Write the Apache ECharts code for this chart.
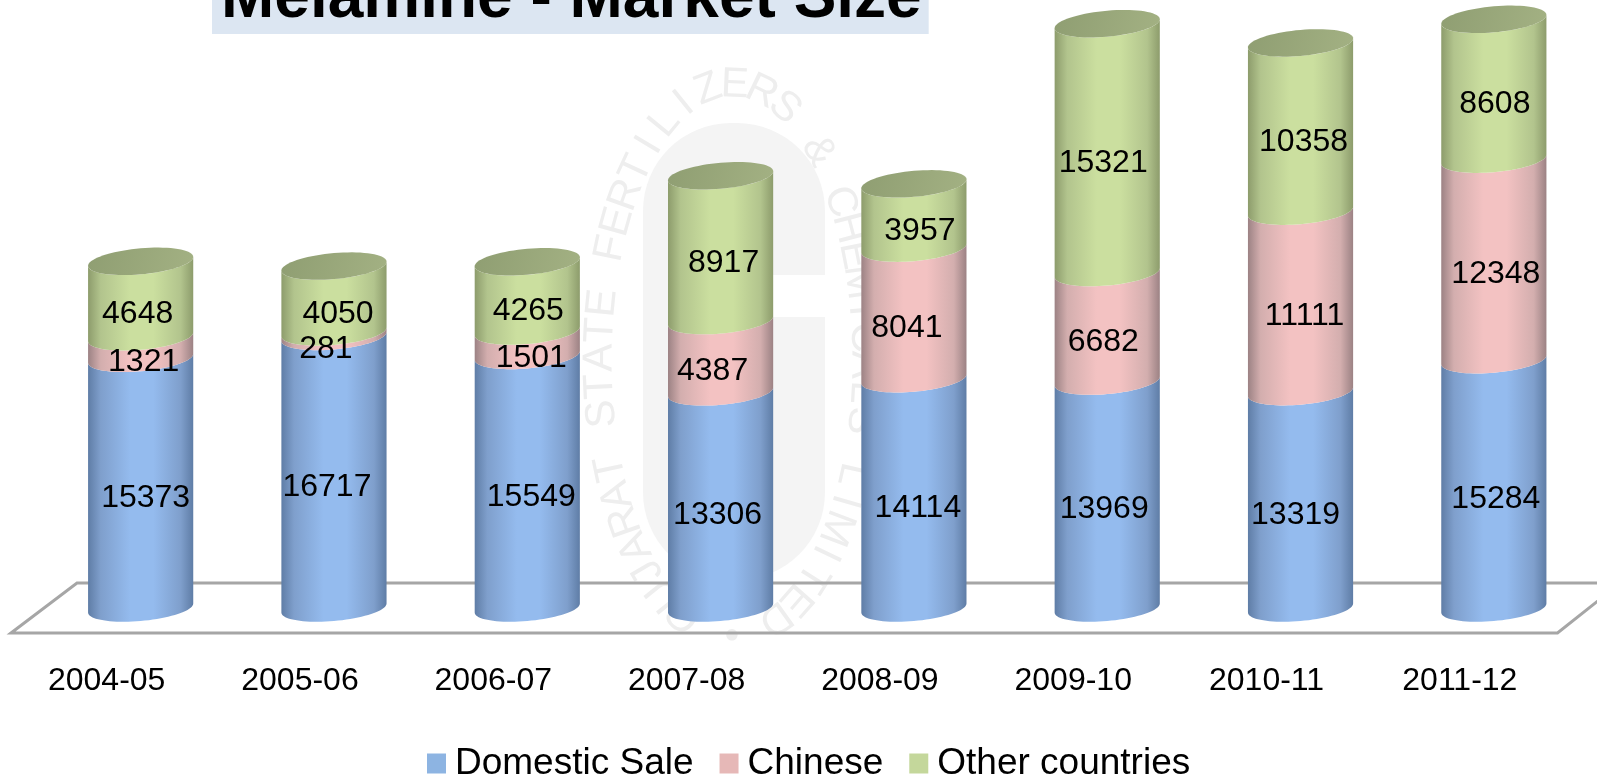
<!DOCTYPE html>
<html>
<head>
<meta charset="utf-8">
<style>html,body{margin:0;padding:0;background:#fff}#chart{width:1597px;height:778px}</style>
<script src="https://cdn.jsdelivr.net/npm/echarts@6/dist/echarts.min.js"></script>
</head>
<body>
<div id="chart"></div>
<script>
const titleText = 'Melamine - Market Size';
const categories = ['2004-05','2005-06','2006-07','2007-08','2008-09','2009-10','2010-11','2011-12'];
const seriesNames = ['Domestic Sale','Chinese','Other countries'];
const domesticSale = [15373,16717,15549,13306,14114,13969,13319,15284];
const chinese = [1321,281,1501,4387,8041,6682,11111,12348];
const otherCountries = [4648,4050,4265,8917,3957,15321,10358,8608];
const watermarkText = 'GUJARAT STATE FERTILIZERS & CHEMICALS LIMITED \u2022';

// horizontal label nudges, in pixels, one per bar (styling only)
const domesticNudge = [5,-7,4,-3,4,-3,-5,2];
const chineseNudge = [3,-8,4,-8,-7,-4,4,2];
const otherNudge = [-3,4,1,3,6,-4,3,1];

const FONT = '"Liberation Sans", Arial, sans-serif';
const looks = [
  {flat:'#8db4e2', dark:'#5f7da6', mid:'#7f9fcc', light:'#94bbee'},
  {flat:'#e6b8b7', dark:'#9c8284', mid:'#d3aeae', light:'#f3c2c2'},
  {flat:'#c4d79b', dark:'#8d9c6c', mid:'#b2c48d', light:'#cbdf9f'}
];
const barRatio = 105 / 193, capB = 13, tilt = 4.5;

function rimPoint(cx, cy, a, t) {
  return [cx + a * Math.cos(t), cy + capB * Math.sin(t) - tilt * Math.cos(t)];
}
function frontArc(cx, cy, a) { // left to right along the near side
  const pts = [];
  for (let k = 0; k <= 40; k++) pts.push(rimPoint(cx, cy, a, Math.PI - Math.PI * k / 40));
  return pts;
}
function cylinderItem(seriesIdx, isTop) {
  return function (params, api) {
    const i = api.value(0);
    const cx = api.coord([i, 0])[0];
    const a = api.size([1, 0])[0] * barRatio / 2;
    const yLow = api.coord([i, api.value(1)])[1];
    const yHigh = api.coord([i, api.value(2)])[1];
    const look = looks[seriesIdx];
    const top = frontArc(cx, yHigh, a);
    const bot = frontArc(cx, yLow, a).reverse();
    const children = [{
      type: 'polygon',
      shape: {points: top.concat(bot)},
      style: {fill: {type:'linear', x:0, y:0, x2:1, y2:0, colorStops:[
        {offset:0, color:look.dark},{offset:0.12, color:look.mid},
        {offset:0.4, color:look.light},{offset:0.62, color:look.light},
        {offset:0.88, color:look.mid},{offset:1, color:look.dark}]}}
    }];
    if (isTop) {
      const ring = [];
      for (let k = 0; k < 72; k++) ring.push(rimPoint(cx, yHigh, a, 2 * Math.PI * k / 72));
      children.push({
        type: 'polygon',
        shape: {points: ring},
        style: {fill: {type:'linear', x:0, y:0, x2:1, y2:1, colorStops:[
          {offset:0, color:'#8f9e72'},{offset:1, color:'#a3b183'}]}}
      });
    }
    const yMid = api.coord([i, (api.value(1) + api.value(2)) / 2])[1] + capB + 2;
    children.push({
      type: 'text', z2: 20,
      style: {x: cx + api.value(4), y: yMid, text: String(api.value(3)),
        font: '32px ' + FONT, fill: '#000', align: 'center', verticalAlign: 'middle'}
    });
    return {type: 'group', children};
  };
}
function rows(values, base, nudge) {
  return values.map((v, i) => [i, base[i], base[i] + v, v, nudge[i]]);
}
const base0 = categories.map(() => 0);
const base1 = domesticSale.slice();
const base2 = domesticSale.map((v, i) => v + chinese[i]);
const stacks = [
  rows(domesticSale, base0, domesticNudge),
  rows(chinese, base1, chineseNudge),
  rows(otherCountries, base2, otherNudge)
];

// faint company seal behind the chart
function watermark() {
  const cx = 732, cy = 359, Rx = 132, Ry = 274, steps = 1440;
  const table = [0];
  const pt = f => [cx - Rx * Math.sin(f), cy + Ry * Math.cos(f)];
  for (let k = 1; k <= steps; k++) {
    const p = pt(2 * Math.PI * (k - 1) / steps), q = pt(2 * Math.PI * k / steps);
    table.push(table[k - 1] + Math.hypot(q[0] - p[0], q[1] - p[1]));
  }
  const total = table[steps];
  const chars = Array.from(watermarkText);
  const out = [
    {type:'rect', shape:{x:643, y:123, width:182, height:457, r:88}, style:{fill:'#f4f4f4'}},
    {type:'rect', shape:{x:770, y:275, width:56, height:42}, style:{fill:'#fff'}}
  ];
  chars.forEach((c, n) => {
    const s = total * (0.04 + n / (chars.length + 0.6));
    let k = table.findIndex(v => v >= s);
    if (k < 0) k = steps;
    const f = 2 * Math.PI * k / steps;
    const p = pt(f);
    const ang = Math.atan2(-Ry * Math.sin(f), -Rx * Math.cos(f));
    out.push({type:'text', x:p[0], y:p[1], rotation:-ang,
      style:{text:c, font:'42px ' + FONT, fill:'#eeeeee', align:'center', verticalAlign:'middle'}});
  });
  return out;
}

const chart = echarts.init(document.getElementById('chart'), null, {renderer:'canvas'});
chart.setOption({
  animation: false,
  backgroundColor: '#fff',
  title: {
    text: titleText, left: 212, top: -36,
    padding: [0, 7, 0, 9],
    backgroundColor: '#dce6f2',
    textStyle: {fontFamily: FONT, fontWeight:'bold', fontSize:64, lineHeight:70, color:'#000'}
  },
  legend: {
    data: seriesNames, left: 427, top: 745, icon: 'rect', itemWidth: 19, itemHeight: 20, itemGap: 26,
    selectedMode: false, padding: 0,
    textStyle: {fontFamily: FONT, fontSize: 37, color:'#000', padding:[0,0,0,4]}
  },
  grid: {left: 44, right: 6.5, top: 7, bottom: 170, containLabel: false},
  xAxis: {
    type: 'category', data: categories,
    axisLine: {show:false}, axisTick: {show:false}, splitLine: {show:false},
    axisLabel: {interval:0, margin:57, fontFamily: FONT, fontSize:32, color:'#000', padding:[0,68,0,0]}
  },
  yAxis: {type:'value', min:0, max:37000, show:false},
  graphic: {elements: [{type:'group', z:-10, silent:true, children: watermark()}]},
  series: [
    {
      type:'custom', name:'floor', z:1, silent:true, clip:false, data:[[0]], encode:{x:0, y:0},
      renderItem: function (params) {
        const c = params.coordSys, r = c.x + c.width, b = c.y + c.height;
        return {type:'polygon',
          shape:{points:[[c.x-33,b+25],[c.x+33,b-25],[r+30,b-25],[r-33,b+25]]},
          style:{fill:'none', stroke:'#a6a6a6', lineWidth:3}};
      }
    }
  ].concat(stacks.map((data, s) => ({
    type:'custom', name:seriesNames[s], z:3, silent:true, clip:false,
    itemStyle:{color:looks[s].flat},
    encode:{x:0, y:[1,2]}, data,
    renderItem: cylinderItem(s, s === 2)
  })))
});
</script>
</body>
</html>
